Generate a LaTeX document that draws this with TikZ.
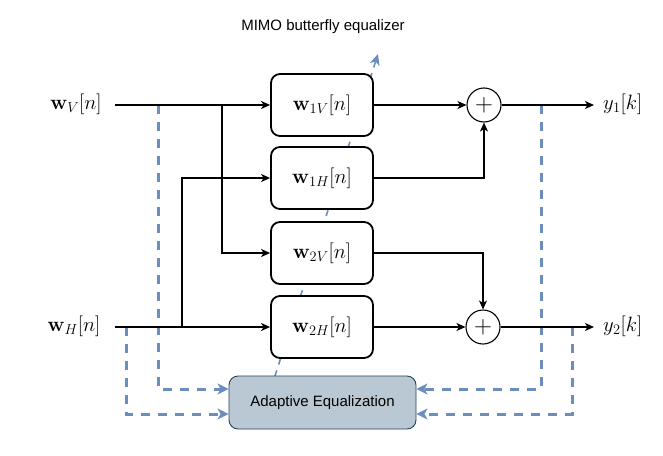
\documentclass[tikz,border=0pt]{standalone}
\usepackage[no-math]{fontspec}
\setmainfont{Liberation Sans}
\usetikzlibrary{arrows.meta}
\definecolor{fbblue}{HTML}{6C8EBF}
\definecolor{aefill}{HTML}{BAC8D3}
\definecolor{aedraw}{HTML}{23445D}
\tikzset{
  filt/.style={draw=black, line width=1.8pt, fill=white, rounded corners=9pt,
    minimum width=102pt, minimum height=62pt, inner sep=0pt,
    font=\fontsize{20}{24}\selectfont},
  summ/.style={draw=black, line width=1.1pt, fill=white, circle, minimum size=34pt,
    inner sep=0pt, font=\fontsize{26}{30}\selectfont},
  arr/.style={line width=1.5pt, -{Stealth[length=9pt,width=8pt,inset=2.5pt]}},
  fb/.style={draw=fbblue, line width=3pt, dash pattern=on 9pt off 8pt,
    -{Stealth[length=11pt,width=11pt,inset=3pt,fill=fbblue]}},
  diag/.style={draw=fbblue, line width=1.6pt, dash pattern=on 6pt off 6pt,
    -{Stealth[length=11pt,width=10pt,inset=3pt,fill=fbblue]}},
  mlabel/.style={font=\fontsize{20}{24}\selectfont, inner sep=0pt},
  tlabel/.style={font=\fontsize{15}{18}\selectfont, inner sep=0pt},
}
\begin{document}
\begin{tikzpicture}[x=1pt,y=-1pt]
\useasboundingbox (0,0) rectangle (663,455);

\coordinate (diagS) at (275,376);
\coordinate (diagE) at (378,54);
\draw[diag] (diagS) -- (diagE);

\node[tlabel] (title) at (323,27) {MIMO butterfly equalizer};

\node[filt] (b1V) at (322,105) {$\mathbf{w}_{1V}[n]$};
\node[filt] (b1H) at (322,178) {$\mathbf{w}_{1H}[n]$};
\node[filt] (b2V) at (322,253) {$\mathbf{w}_{2V}[n]$};
\node[filt] (b2H) at (322,327) {$\mathbf{w}_{2H}[n]$};

\node[summ] (s1) at (484,105) {$+$};
\node[summ] (s2) at (483,327) {$+$};

\node[draw=aedraw, line width=0.9pt, fill=aefill, rounded corners=9pt,
  minimum width=187pt, minimum height=53pt, inner sep=0pt,
  font=\fontsize{15}{18}\selectfont] (ae) at (322.5,402.5) {Adaptive Equalization};

\node[mlabel] (lV) at (76,104) {$\mathbf{w}_V[n]$};
\node[mlabel] (lH) at (74,326) {$\mathbf{w}_H[n]$};
\node[mlabel, anchor=west] (ly1) at (603,104) {$y_1[k]$};
\node[mlabel, anchor=west] (ly2) at (603,326) {$y_2[k]$};

\coordinate (inV) at (115,105);
\coordinate (inH) at (115,327);
\coordinate (jV) at (222,105);
\coordinate (jH) at (182,327);
\coordinate (out1) at (594,105);
\coordinate (out2) at (594,327);
\coordinate (dV) at (158,105);
\coordinate (dH) at (126,327);
\coordinate (d1) at (541,105);
\coordinate (d2) at (572,327);

\draw[fb] (dV) |- ([yshift=13.5pt]ae.west);
\draw[fb] (dH) |- ([yshift=-11.5pt]ae.west);
\draw[fb] (d1) |- ([yshift=13.5pt]ae.east);
\draw[fb] (d2) |- ([yshift=-11.5pt]ae.east);

\draw[arr] (inV) -- (b1V.west);
\draw[arr] (inH) -- (b2H.west);
\draw[arr] (jV) |- (b2V.west);
\draw[arr] (jH) |- (b1H.west);
\draw[arr] (b1V.east) -- (s1.west);
\draw[arr] (b2H.east) -- (s2.west);
\draw[arr] (b1H.east) -| (s1.south);
\draw[arr] (b2V.east) -| (s2.north);
\draw[arr] (s1.east) -- (out1);
\draw[arr] (s2.east) -- (out2);
\end{tikzpicture}
\end{document}
